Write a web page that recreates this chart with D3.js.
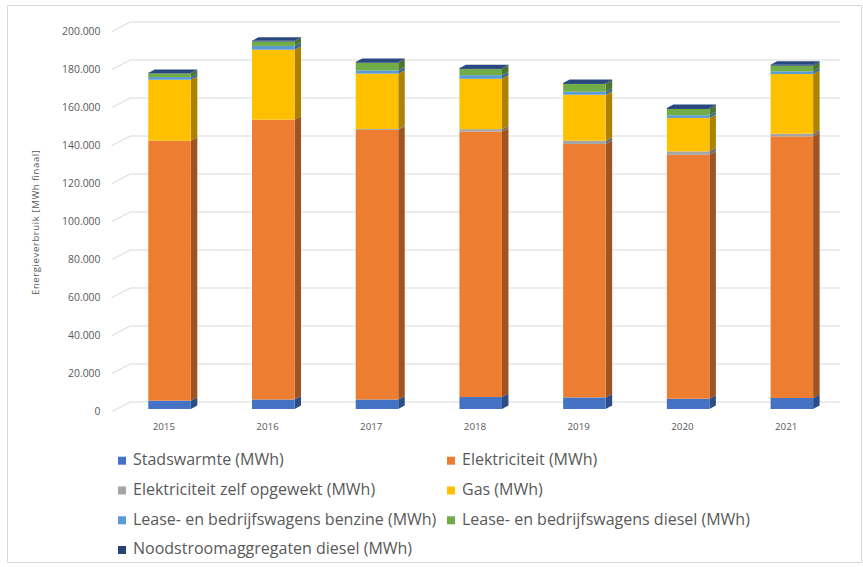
<!DOCTYPE html>
<html>
<head>
<meta charset="utf-8">
<script src="https://cdn.jsdelivr.net/npm/d3@7"></script>
<style>
  html, body { margin: 0; padding: 0; background: #fff; }
  svg { display: block; font-family: "Open Sans", "Noto Sans", sans-serif; }
</style>
</head>
<body>
<svg id="chart" width="863" height="567"></svg>
<script>
// Energieverbruik per jaar (MWh finaal), gestapeld per bron
const years = ["2015", "2016", "2017", "2018", "2019", "2020", "2021"];
const stadswarmte   = [4400, 5000, 5000, 6300, 6100, 5400, 5800];
const elektriciteit = [136800, 147300, 141900, 139700, 133400, 128400, 137700];
const zelfOpgewekt  = [0, 0, 500, 1300, 1700, 1800, 1400];
const gas           = [32100, 36800, 29100, 26500, 24200, 17600, 31400];
const benzine       = [1400, 2000, 1700, 1900, 1600, 1400, 1400];
const diesel        = [1900, 2300, 4000, 3200, 4100, 3300, 3000];
const noodstroom    = [300, 400, 400, 500, 500, 500, 500];

const seriesNames = [
  "Stadswarmte (MWh)",
  "Elektriciteit (MWh)",
  "Elektriciteit zelf opgewekt (MWh)",
  "Gas (MWh)",
  "Lease- en bedrijfswagens benzine (MWh)",
  "Lease- en bedrijfswagens diesel (MWh)",
  "Noodstroomaggregaten diesel (MWh)"
];
const seriesValues = [stadswarmte, elektriciteit, zelfOpgewekt, gas, benzine, diesel, noodstroom];
const seriesColors = ["#4472C4", "#ED7D31", "#A5A5A5", "#FFC000", "#5B9BD5", "#70AD47", "#264478"];
const yTicks = [0, 20000, 40000, 60000, 80000, 100000, 120000, 140000, 160000, 180000, 200000];
const yTitle = "Energieverbruik [MWh finaal]";

// rows for d3.stack
const table = years.map((yr, i) => {
  const row = { year: yr };
  seriesNames.forEach((n, s) => { row[n] = seriesValues[s][i]; });
  return row;
});
const stacked = d3.stack().keys(seriesNames)(table);

const svg = d3.select("#chart");

// chart frame
svg.append("rect")
  .attr("x", 7.5).attr("y", 5.5).attr("width", 854).attr("height", 557)
  .attr("fill", "#fff").attr("stroke", "#d9d9d9").attr("stroke-width", 1);

// 3D projection: depth offset of the back wall and of the columns
const wallDx = 18.3, wallDy = -9.5;
const barDx = 5.7, barDy = -2.5;
const sideDx = 6.5, sideDy = -3.5;

const x = d3.scaleBand().domain(years).range([112, 838]).paddingInner(0).paddingOuter(0);
const y = d3.scaleLinear().domain([0, 200000]).range([411.5, 31.5]);
const barW = x.bandwidth() * 0.41;
const fmt = d3.formatLocale({ decimal: ",", thousands: ".", grouping: [3], currency: ["€", ""] }).format(",d");

// gridlines on the side and back walls
const grid = svg.append("g");
yTicks.forEach(v => {
  const y0 = y(v);
  grid.append("path")
    .attr("d", `M${x.range()[0]},${y0}L${x.range()[0] + wallDx},${y0 + wallDy}L840,${y0 + wallDy}`)
    .attr("fill", "none").attr("stroke", "#d9d9d9").attr("stroke-width", 1);
});

// value axis labels
svg.append("g").selectAll("text").data(yTicks).join("text")
  .attr("x", 100.5).attr("y", d => y(d) + 0.5)
  .attr("text-anchor", "end").attr("dominant-baseline", "middle")
  .attr("font-size", 10.4).attr("fill", "#595959")
  .text(d => fmt(d));

// category labels
svg.append("g").selectAll("text").data(years).join("text")
  .attr("x", d => x(d) + x.bandwidth() / 2).attr("y", 427.5)
  .attr("text-anchor", "middle").attr("dominant-baseline", "middle")
  .attr("font-size", 9.8).attr("fill", "#595959")
  .text(d => d);

// axis title
svg.append("text")
  .attr("transform", "translate(39,222.5) rotate(-90)")
  .attr("text-anchor", "middle")
  .attr("font-size", 9.6).attr("fill", "#595959")
  .attr("textLength", 145).attr("lengthAdjust", "spacing")
  .text(yTitle);

// columns
const bars = svg.append("g");
years.forEach((yr, i) => {
  const xl = x(yr) + x.bandwidth() / 2 + barDx - barW / 2;
  const xr = xl + barW;
  let topIdx = -1;
  stacked.forEach((layer, s) => { if (layer[i][1] - layer[i][0] > 0) topIdx = s; });
  stacked.forEach((layer, s) => {
    const [v0, v1] = layer[i];
    if (v1 - v0 <= 0) return;
    const yb = y(v0) + barDy, yt = y(v1) + barDy;
    const base = d3.color(seriesColors[s]);
    // side face
    bars.append("path")
      .attr("d", `M${xr},${yb}L${xr + sideDx},${yb + sideDy}L${xr + sideDx},${yt + sideDy}L${xr},${yt}Z`)
      .attr("fill", base.darker(1.1).formatHex());
    // front face
    bars.append("rect")
      .attr("x", xl).attr("y", yt).attr("width", barW).attr("height", Math.max(0, yb - yt))
      .attr("fill", base.formatHex());
    // top face of the column
    if (s === topIdx) {
      bars.append("path")
        .attr("d", `M${xl},${yt}L${xl + sideDx},${yt + sideDy}L${xr + sideDx},${yt + sideDy}L${xr},${yt}Z`)
        .attr("fill", base.brighter(0.15).formatHex());
    }
  });
});

// legend
const legendPos = [
  [118, 460.7], [447, 460.7],
  [118, 490.5], [447, 490.5],
  [118, 520.3], [447, 520.3],
  [118, 550]
];
const legend = svg.append("g");
seriesNames.forEach((n, s) => {
  const [lx, ly] = legendPos[s];
  legend.append("rect").attr("x", lx).attr("y", ly - 4).attr("width", 8).attr("height", 8)
    .attr("fill", seriesColors[s]);
  legend.append("text").attr("x", lx + 15).attr("y", ly)
    .attr("dominant-baseline", "middle")
    .attr("font-size", 16).attr("fill", "#595959")
    .text(n);
});
</script>
</body>
</html>
